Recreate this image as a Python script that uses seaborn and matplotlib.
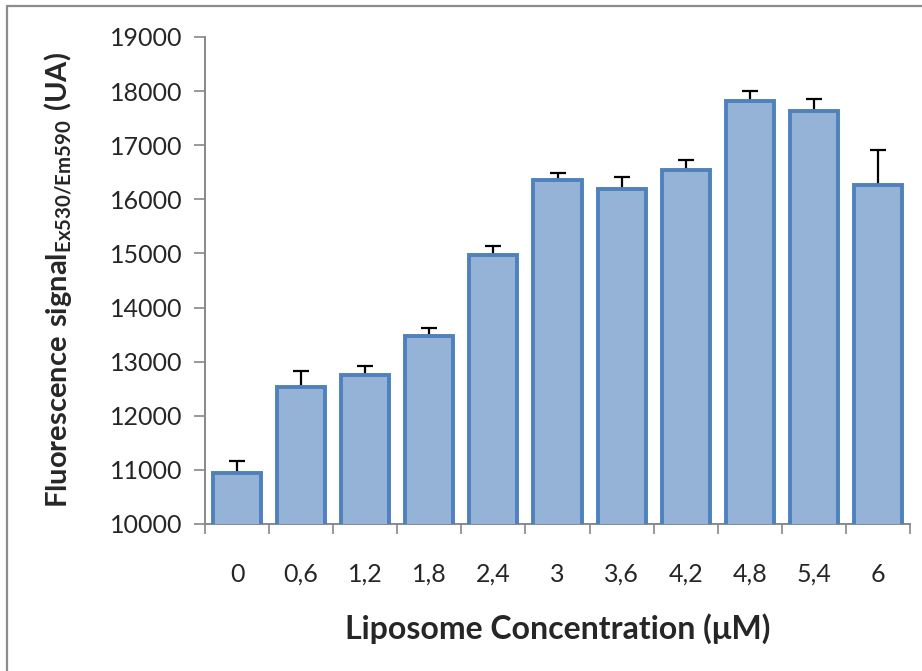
import matplotlib
matplotlib.use("Agg")
import matplotlib.pyplot as plt
import seaborn as sns
import pandas as pd
import numpy as np
from matplotlib.lines import Line2D

categories = ["0", "0,6", "1,2", "1,8", "2,4", "3", "3,6", "4,2", "4,8", "5,4", "6"]
values = [10945, 12540, 12760, 13480, 14965, 16350, 16185, 16535, 17810, 17625, 16270]
errors = [225, 295, 165, 150, 165, 130, 220, 200, 185, 220, 640]
y_ticks = [10000, 11000, 12000, 13000, 14000, 15000, 16000, 17000, 18000, 19000]

sns.set_theme(style="white")
plt.rcParams['font.family'] = ['Lato', 'DejaVu Sans']
plt.rcParams['mathtext.fontset'] = 'custom'
plt.rcParams['mathtext.bf'] = 'Lato:bold'
plt.rcParams['mathtext.rm'] = 'Lato'

df = pd.DataFrame({"conc": categories, "signal": values})

fig = plt.figure(figsize=(9.22, 6.71), dpi=100)
ax = fig.add_axes([205/922, 1-524/671, (910-205)/922, (524-37)/671])

ax.errorbar(x=np.arange(len(categories)), y=values,
            yerr=[np.zeros(len(errors)), errors], fmt="none",
            ecolor="black", elinewidth=1.6, capsize=6, capthick=1.6, zorder=1)
sns.barplot(data=df, x="conc", y="signal", ax=ax, color="#95B3D7",
            edgecolor="#4F81BD", linewidth=2.8, width=0.75, errorbar=None,
            saturation=1)
for p in ax.patches:
    p.set_zorder(3)

ax.set_ylim(10000, 19000)
ax.set_xlim(-0.5, len(categories) - 0.5)
ax.set_yticks(y_ticks)
ax.set_yticklabels([str(t) for t in y_ticks], fontsize=18)
ax.set_xticks(np.arange(len(categories)))
ax.set_xticklabels(categories, fontsize=18)
ax.set_xticks(np.arange(len(categories) + 1) - 0.5, minor=True)
ax.tick_params(axis="x", which="major", length=0, pad=28)
ax.tick_params(axis="x", which="minor", length=7, width=1.2, color="#888888", direction="out", bottom=True)
ax.tick_params(axis="y", which="major", length=8, width=1.2, color="#888888", direction="out", left=True, pad=8)

for s in ["top", "right"]:
    ax.spines[s].set_visible(False)
for s in ["left", "bottom"]:
    ax.spines[s].set_color("#888888")
    ax.spines[s].set_linewidth(1.4)

ax.set_xlabel("Liposome Concentration (μM)", fontsize=23, fontweight="bold", labelpad=20)
ax.set_ylabel(r"$\mathbf{Fluorescence\ signal_{Ex530/Em590}\ (UA)}$", fontsize=21, labelpad=26)

fig.add_artist(Line2D([7/922, 7/922], [0, 1-6/671], transform=fig.transFigure, color="#8c8c8c", lw=1.6))
fig.add_artist(Line2D([7/922, 1], [1-6/671, 1-6/671], transform=fig.transFigure, color="#8c8c8c", lw=1.6))

fig.savefig("out.png", dpi=100)
